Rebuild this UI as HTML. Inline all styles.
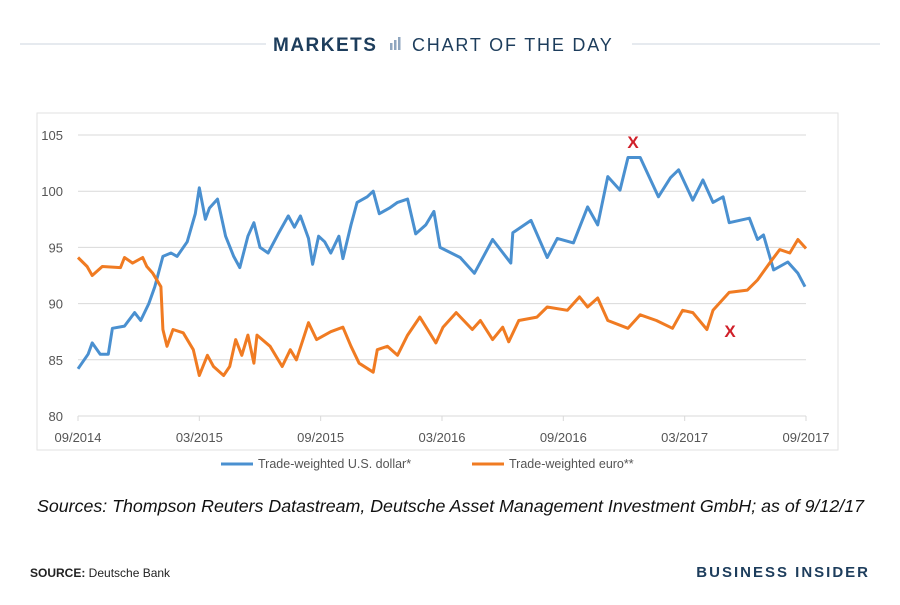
<!DOCTYPE html>
<html><head><meta charset="utf-8"><style>
body{margin:0;background:#fff;width:900px;height:600px;overflow:hidden;font-family:"Liberation Sans",sans-serif}
</style></head><body>
<svg width="900" height="600">
<g>
<line x1="20" y1="44" x2="266" y2="44" stroke="#dde3ea" stroke-width="1.5"/>
<line x1="632" y1="44" x2="880" y2="44" stroke="#dde3ea" stroke-width="1.5"/>
<text x="273" y="51" font-size="19" font-weight="bold" fill="#1d3d5c" letter-spacing="1.5">MARKETS</text>
<rect x="390" y="43" width="2.5" height="7" fill="#8fa6bf"/><rect x="394" y="40" width="2.5" height="10" fill="#8fa6bf"/><rect x="398" y="37" width="2.5" height="13" fill="#8fa6bf"/>
<text x="412" y="51" font-size="18" fill="#1d3d5c" letter-spacing="1.8">CHART OF THE DAY</text>
</g>
<rect x="37" y="113" width="801" height="337" fill="#fff" stroke="#e2e2e2"/>
<g id="grid"></g><g id="series"></g>
<text x="633" y="148" font-size="17" font-weight="bold" fill="#d0202a" text-anchor="middle">X</text>
<text x="730" y="337" font-size="17" font-weight="bold" fill="#d0202a" text-anchor="middle">X</text>
<g>
<line x1="221" y1="464" x2="253" y2="464" stroke="#4a90d0" stroke-width="3"/>
<text x="258" y="468" font-size="12.5" fill="#555">Trade-weighted U.S. dollar*</text>
<line x1="472" y1="464" x2="504" y2="464" stroke="#f07b22" stroke-width="3"/>
<text x="509" y="468" font-size="12.5" fill="#555">Trade-weighted euro**</text>
</g>
<text x="37" y="512" font-size="17.5" font-style="italic" fill="#111" textLength="827" lengthAdjust="spacingAndGlyphs">Sources: Thompson Reuters Datastream, Deutsche Asset Management Investment GmbH; as of 9/12/17</text>
<text x="30" y="577" font-size="12" fill="#222"><tspan font-weight="bold">SOURCE:</tspan> Deutsche Bank</text>
<text x="870" y="577" font-size="15" font-weight="bold" fill="#1d3d5c" text-anchor="end" letter-spacing="2">BUSINESS INSIDER</text>
</svg>
<script>
const yTicks=[80,85,90,95,100,105];
const xTickMonths=[0,6,12,18,24,30,36];
const xTickLabels=["09/2014","03/2015","09/2015","03/2016","09/2016","03/2017","09/2017"];
const usdMonths=[0,0.5,0.7,1.1,1.5,1.7,2.3,2.8,3.1,3.5,3.8,4.2,4.6,4.9,5.4,5.8,6.0,6.3,6.5,6.9,7.3,7.7,8.0,8.4,8.7,9.0,9.4,9.9,10.4,10.7,11.0,11.4,11.6,11.9,12.2,12.5,12.9,13.1,13.5,13.8,14.3,14.6,14.9,15.4,15.8,16.3,16.7,17.2,17.6,17.9,18.9,19.6,20.5,21.4,21.5,22.4,23.2,23.7,24.5,25.2,25.7,26.2,26.8,27.2,27.8,28.7,29.3,29.7,30.4,30.9,31.4,31.9,32.2,33.2,33.6,33.9,34.4,35.1,35.6,35.95];
const usdValues=[84.2,85.5,86.5,85.5,85.5,87.8,88,89.2,88.5,90,91.5,94.2,94.5,94.2,95.5,98,100.3,97.5,98.5,99.3,96,94.2,93.2,96,97.2,95,94.5,96.2,97.8,96.8,97.8,95.8,93.5,96,95.5,94.5,96,94,97,99,99.5,100,98,98.5,99,99.3,96.2,97,98.2,95,94.1,92.7,95.7,93.6,96.3,97.4,94.1,95.8,95.4,98.6,97,101.3,100.1,103,103,99.5,101.2,101.9,99.2,101,99,99.5,97.2,97.6,95.7,96.1,93,93.7,92.7,91.5];
const euroMonths=[0,0.45,0.7,1.2,2.1,2.3,2.7,3.2,3.4,3.7,4.1,4.2,4.4,4.7,5.2,5.7,6.0,6.4,6.7,7.2,7.5,7.8,8.1,8.4,8.7,8.85,9.5,10.1,10.5,10.8,11.4,11.8,12.5,13.1,13.5,13.9,14.6,14.8,15.3,15.8,16.3,16.9,17.7,18.05,18.7,19.5,19.9,20.5,21.0,21.3,21.8,22.7,23.2,24.2,24.8,25.2,25.7,26.2,27.2,27.8,28.6,29.4,29.9,30.4,31.1,31.4,32.2,33.1,33.6,34.2,34.7,35.2,35.6,36];
const euroValues=[94.1,93.3,92.5,93.3,93.2,94.1,93.6,94.1,93.3,92.7,91.5,87.7,86.2,87.7,87.4,85.9,83.6,85.4,84.4,83.6,84.4,86.8,85.4,87.2,84.7,87.2,86.2,84.4,85.9,85,88.3,86.8,87.5,87.9,86.2,84.7,83.9,85.9,86.2,85.4,87.2,88.8,86.5,87.9,89.2,87.7,88.5,86.8,87.9,86.6,88.5,88.8,89.7,89.4,90.6,89.7,90.5,88.5,87.8,89,88.5,87.8,89.4,89.2,87.7,89.4,91,91.2,92.1,93.6,94.8,94.5,95.7,94.9];
const X0=78,X1=806,Y0=416,Y1=135;
const xs=m=>X0+(X1-X0)*m/36;
const ys=v=>Y0-(Y0-Y1)*(v-80)/25;
const NS="http://www.w3.org/2000/svg";
const grid=document.getElementById('grid'),ser=document.getElementById('series');
function mk(tag,attrs,parent){const e=document.createElementNS(NS,tag);for(const k in attrs)e.setAttribute(k,attrs[k]);parent.appendChild(e);return e;}
yTicks.forEach(v=>{
 const l=mk('line',{x1:X0,x2:X1,y1:ys(v),y2:ys(v),stroke:'#d9d9d9','stroke-width':1},grid);
 
 
 const t=mk('text',{x:63,y:ys(v)+5,'font-size':13,fill:'#555','text-anchor':'end'},grid);
 t.textContent=v;
 
 
});
xTickMonths.forEach((m,i)=>{
 const tk=mk('line',{x1:xs(m),x2:xs(m),y1:Y0,y2:Y0+5,stroke:'#d9d9d9'},grid);
 
 
 const t=mk('text',{x:xs(m),y:Y0+26,'font-size':13,fill:'#555','text-anchor':'middle'},grid);
 t.textContent=xTickLabels[i];
 
 
});
function line(ms,vs,col,name){
 const d=ms.map((m,i)=>(i?'L':'M')+xs(m).toFixed(1)+','+ys(vs[i]).toFixed(1)).join('');
 const p=mk('path',{d:d,fill:'none',stroke:col,'stroke-width':3,'stroke-linejoin':'round'},ser);
 
 
}
line(usdMonths,usdValues,'#4a90d0','usd-line');
line(euroMonths,euroValues,'#f07b22','euro-line');
</script>
</body></html>
